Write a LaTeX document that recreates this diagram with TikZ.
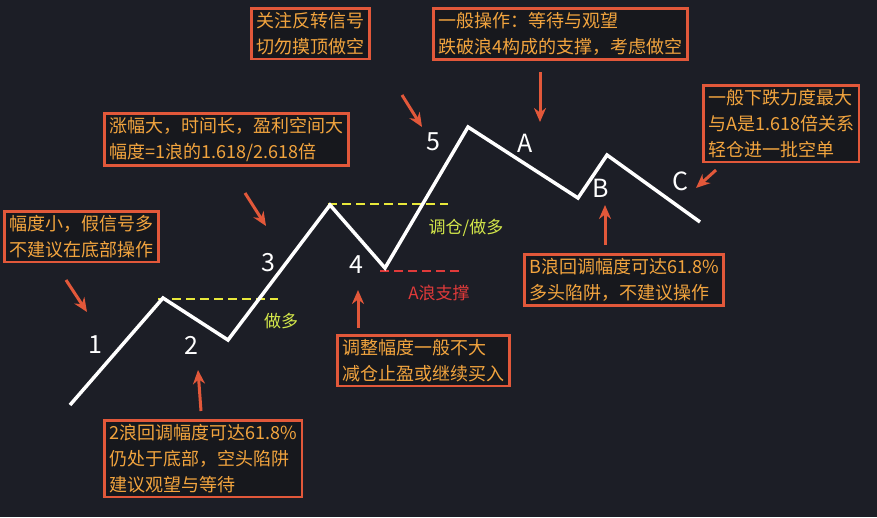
\documentclass[tikz,border=0pt]{standalone}
\usepackage{fontspec}
\setmainfont{Noto Sans CJK SC}
\usetikzlibrary{arrows.meta}
\definecolor{bg}{HTML}{1C1E26}
\definecolor{boxfill}{HTML}{17181D}
\definecolor{bord}{HTML}{E2583A}
\definecolor{txt}{HTML}{F2A43E}
\definecolor{ylw}{HTML}{E8E83A}
\definecolor{grn}{HTML}{D4E84A}
\definecolor{rd}{HTML}{E03A3A}
\tikzset{
 note/.style={draw=bord,line width=2.5pt,fill=boxfill,text=txt,align=left,inner xsep=5pt,inner ysep=4pt,font=\fontsize{18}{26}\selectfont,anchor=north west},
 wlbl/.style={text=white,font=\fontsize{25}{25}\selectfont},
 wave/.style={white,line width=3.5pt,line join=miter},
 ptr/.style={bord,line width=3pt,-{Stealth[length=14pt,width=12pt]}},
 lvl/.style={line width=2.5pt,dash pattern=on 9pt off 5pt}
}
\begin{document}
\begin{tikzpicture}[x=1pt,y=-1pt]
\fill[bg] (0,0) rectangle (877,517);
\useasboundingbox (0,0) rectangle (877,517);
% levels
\draw[lvl,ylw] (158,299) -- (278,299);
\draw[lvl,ylw] (328,204) -- (448,204);
\draw[lvl,rd,line width=1.8pt] (380,271) -- (460,271);
\node[text=grn,font=\fontsize{17}{17}\selectfont] (l1) at (281,321) {做多};
\node[text=grn,font=\fontsize{17}{17}\selectfont] (l2) at (466,228) {调仓/做多};
\node[text=rd,font=\fontsize{17}{17}\selectfont] (l3) at (439,293) {A浪支撑};
% wave
\coordinate (w0) at (70,405);
\coordinate (w1) at (163,298);
\coordinate (w2) at (228,340);
\coordinate (w3) at (330,205);
\coordinate (w4) at (385,268);
\coordinate (w5) at (468,127);
\coordinate (wa) at (578,198);
\coordinate (wb) at (607,155);
\coordinate (wc) at (700,222);
\draw[wave] (w0)--(w1)--(w2)--(w3)--(w4)--(w5)--(wa)--(wb)--(wc);
\node[wlbl] (n1) at (95,345) {1};
\node[wlbl] (n2) at (191,345) {2};
\node[wlbl] (n3) at (268,263) {3};
\node[wlbl] (n4) at (356,265) {4};
\node[wlbl] (n5) at (433,142) {5};
\node[wlbl] (na) at (525,143) {A};
\node[wlbl] (nb) at (601,188) {B};
\node[wlbl] (nc) at (680,181) {C};
% notes
\node[note] (b1) at (3,210) {幅度小，假信号多\\不建议在底部操作};
\node[note] (b2) at (103,112) {涨幅大，时间长，盈利空间大\\幅度=1浪的1.618/2.618倍};
\node[note] (b3) at (250,7) {关注反转信号\\切勿摸顶做空};
\node[note] (b4) at (432,7) {一般操作：等待与观望\\跌破浪4构成的支撑，考虑做空};
\node[note] (b5) at (702,84) {一般下跌力度最大\\与A是1.618倍关系\\轻仓进一批空单};
\node[note] (b6) at (523,253) {B浪回调幅度可达61.8\%\\多头陷阱，不建议操作};
\node[note] (b7) at (336,334) {调整幅度一般不大\\减仓止盈或继续买入};
\node[note] (b8) at (103,419) {2浪回调幅度可达61.8\%\\仍处于底部，空头陷阱\\建议观望与等待};
% pointers
\coordinate (p1) at (87,312);
\coordinate (p2) at (266,226);
\coordinate (p3) at (422,127);
\coordinate (p4) at (540,122);
\coordinate (p5) at (696,188);
\coordinate (p6) at (605,205);
\coordinate (p7) at (358,290);
\coordinate (p8) at (198,370);
\draw[ptr] (66,280) -- (p1);
\draw[ptr] (245,193) -- (p2);
\draw[ptr] (402,95) -- (p3);
\draw[ptr] (540,72) -- (p4);
\draw[ptr] (716,170) -- (p5);
\draw[ptr] (605,245) -- (p6);
\draw[ptr] (358,328) -- (p7);
\draw[ptr] (201,411) -- (p8);
\end{tikzpicture}
\end{document}
